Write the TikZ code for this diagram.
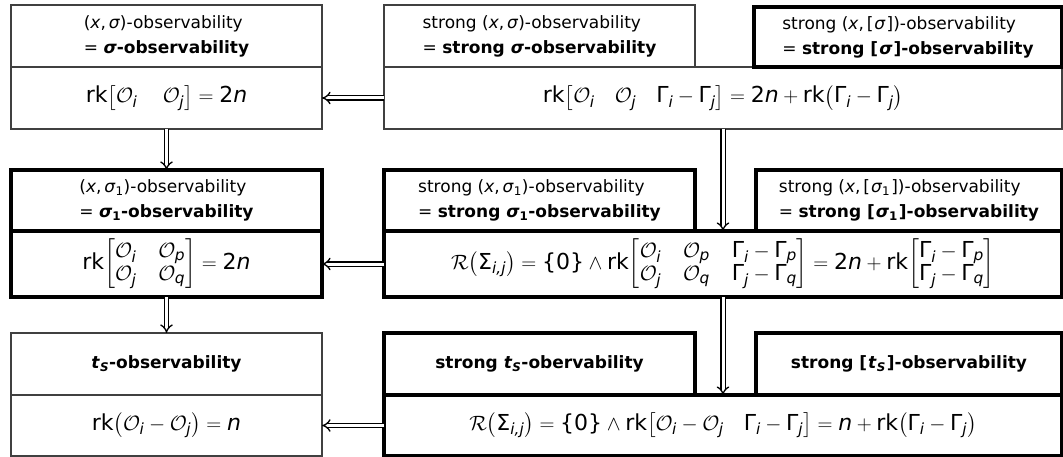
\documentclass[tikz,border=0pt]{standalone}
\usepackage{amsmath}
\usepackage{fontspec}
\setmainfont{DejaVu Sans}
\usetikzlibrary{arrows.meta}
\newcommand{\mi}[1]{\text{\itshape #1}}
\newcommand{\Oi}[1]{\mathcal{O}_{\mi{#1}}}
\newcommand{\Gi}[1]{\text{Γ}_{\mi{#1}}}
\newcommand{\rk}{\text{rk}\!}
\setlength{\arraycolsep}{11pt}
\begin{document}
\begin{tikzpicture}[x=1pt,y=-1pt,
  box/.style={rectangle, inner sep=0pt, outer sep=0pt, anchor=north west, fill=white},
  thinbox/.style={box, draw=black!75, line width=1.3pt},
  thickbox/.style={box, draw=black, line width=4pt},
  head/.style={font=\fontsize{17}{25}\selectfont, align=left},
  form/.style={font=\fontsize{22}{26}\selectfont},
  imp/.style={draw=black, double=white, line width=1.3pt, double distance=3pt, -{Implies[scale=1.5]}}
]
\fill[white] (0,0) rectangle (1063,457);
\useasboundingbox (0,0) rectangle (1063,457);
% ---- row 1 (thin) ----
\node[thinbox, head, minimum width=311pt, minimum height=62pt] (lh1) at (11,5)
  {(\textit{x},\,\textit{σ})-observability\\= \textbf{\textit{σ}-observability}};
\node[thinbox, form, minimum width=311pt, minimum height=62pt] (lf1) at (11,67)
  {$\rk\left[\Oi{i}\quad\,\Oi{j}\right]=\text{2}\mi{n}$};
\node[thinbox, form, minimum width=678pt, minimum height=62pt] (rf1) at (384,67)
  {$\rk\left[\Oi{i}\enspace\;\,\Oi{j}\enspace\;\,\Gi{i}-\Gi{j}\right]=\text{2}\mi{n}+\rk\left(\Gi{i}-\Gi{j}\right)$};
\node[thinbox, head, minimum width=311pt, minimum height=62pt] (mh1) at (384,5)
  {strong (\textit{x},\,\textit{σ})-observability\\= \textbf{strong \textit{σ}-observability}};
\node[thickbox, head, minimum width=308pt, minimum height=60pt] (th1) at (754,7)
  {strong (\textit{x},\,[\kern1pt\textit{σ}\kern1pt])-observability\\= \textbf{strong [\kern1pt\textit{σ}\kern1pt]-observability}};
% ---- row 3 left (thin) ----
\node[thinbox, head, minimum width=311pt, minimum height=62pt] (lh3) at (11,333)
  {\textbf{\textit{t}$_{\text{\itshape S}}$-observability}};
\node[thinbox, form, minimum width=311pt, minimum height=61pt] (lf3) at (11,395)
  {$\rk\left(\Oi{i}-\Oi{j}\right)=\mi{n}$};
% ---- row 2 (thick) ----
\node[thickbox, head, minimum width=311pt, minimum height=61pt] (lh2) at (11,170)
  {(\textit{x},\,\textit{σ}$_{\text{1}}$)-observability\\= \textbf{\textit{σ}$_{\text{1}}$-observability}};
\node[thickbox, form, minimum width=311pt, minimum height=66pt] (lf2) at (11,231)
  {$\rk\begin{bmatrix}\Oi{i}&\Oi{p}\\[-3pt]\Oi{j}&\Oi{q}\end{bmatrix}=\text{2}\mi{n}$};
\node[thickbox, form, minimum width=678pt, minimum height=66pt] (rf2) at (384,231)
  {$\mathcal{R}\!\left(\text{Σ}_{\mi{i,j}}\right)=\text{\{0\}}\wedge\rk\begin{bmatrix}\Oi{i}&\Oi{p}&\Gi{i}-\Gi{p}\\[-3pt]\Oi{j}&\Oi{q}&\Gi{j}-\Gi{q}\end{bmatrix}=\text{2}\mi{n}+\rk\begin{bmatrix}\Gi{i}-\Gi{p}\\[-3pt]\Gi{j}-\Gi{q}\end{bmatrix}$};
\node[thickbox, head, minimum width=311pt, minimum height=61pt] (mh2) at (384,170)
  {strong (\textit{x},\,\textit{σ}$_{\text{1}}$)-observability\\= \textbf{strong \textit{σ}$_{\text{1}}$-observability}};
\node[thickbox, head, minimum width=306pt, minimum height=61pt] (th2) at (756,170)
  {strong (\textit{x},\,[\kern1pt\textit{σ}$_{\text{1}}$\kern1pt])-observability\\= \textbf{strong [\kern1pt\textit{σ}$_{\text{1}}$\kern1pt]-observability}};
% ---- row 3 right (thick) ----
\node[thickbox, form, minimum width=678pt, minimum height=61pt] (rf3) at (384,395)
  {$\mathcal{R}\!\left(\text{Σ}_{\mi{i,j}}\right)=\text{\{0\}}\wedge\rk\left[\Oi{i}-\Oi{j}\enspace\;\,\Gi{i}-\Gi{j}\right]=\mi{n}+\rk\left(\Gi{i}-\Gi{j}\right)$};
\node[thickbox, head, minimum width=311pt, minimum height=62pt] (mh3) at (384,333)
  {\textbf{strong \textit{t}$_{\text{\itshape S}}$-obervability}};
\node[thickbox, head, minimum width=306pt, minimum height=62pt] (th3) at (756,333)
  {\textbf{strong [\kern1pt\textit{t}$_{\text{\itshape S}}$\kern1pt]-observability}};
% ---- implications ----
\draw[imp] (rf1.west) -- (lf1.east);
\draw[imp] (rf2.west) -- (lf2.east);
\draw[imp] (rf3.west) -- (lf3.east);
\draw[imp] (lf1.south) -- (lh2.north);
\draw[imp] (lf2.south) -- (lh3.north);
\draw[imp] (rf1.south) -- (rf2.north);
\draw[imp] (rf2.south) -- (rf3.north);
\end{tikzpicture}
\end{document}
